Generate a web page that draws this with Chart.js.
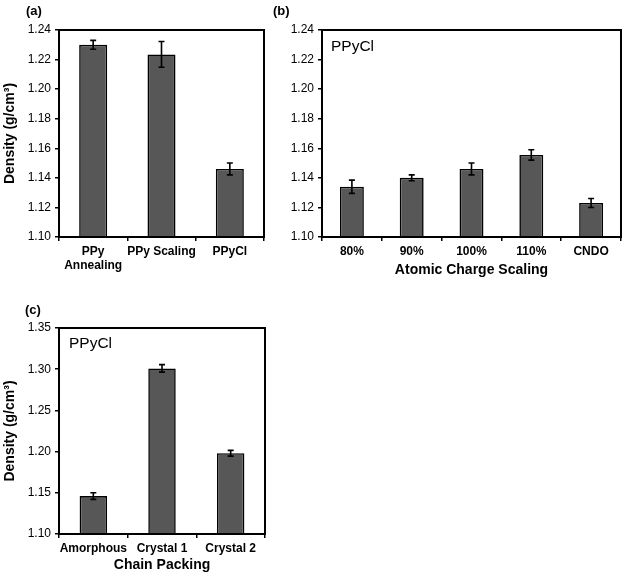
<!DOCTYPE html>
<html>
<head>
<meta charset="utf-8">
<script src="https://cdn.jsdelivr.net/npm/chart.js@4.4.1/dist/chart.umd.min.js"></script>
<style>
  html, body { margin: 0; padding: 0; background: #fff; }
  body { width: 625px; height: 577px; position: relative; overflow: hidden;
         font-family: "Liberation Sans", Arial, sans-serif; }
  .box { position: absolute; }
  .tag { position: absolute; font-weight: bold; font-size: 13px; color: #000; }
  .note { position: absolute; font-size: 15.5px; color: #000; }
</style>
</head>
<body>
<div class="box" style="left:0;top:0;width:275px;height:285px"><canvas id="chart-a"></canvas></div>
<div class="box" style="left:275px;top:0;width:350px;height:285px"><canvas id="chart-b"></canvas></div>
<div class="box" style="left:0;top:290px;width:275px;height:287px"><canvas id="chart-c"></canvas></div>

<div class="tag" style="left:26px;top:3px">(a)</div>
<div class="tag" style="left:273px;top:3px">(b)</div>
<div class="tag" style="left:25px;top:302px">(c)</div>
<div class="note" style="left:331px;top:37px">PPyCl</div>
<div class="note" style="left:69px;top:334px">PPyCl</div>

<script>
// ── Data ──────────────────────────────────────────────────────────────────────

const labelsA = [['PPy', 'Annealing'], 'PPy Scaling', 'PPyCl'];
const valuesA = [1.230, 1.2235, 1.146];
const errorsA = [0.003, 0.0087, 0.004];

const labelsB = ['80%', '90%', '100%', '110%', 'CNDO'];
const valuesB = [1.134, 1.140, 1.146, 1.1555, 1.123];
const errorsB = [0.0045, 0.002, 0.004, 0.0035, 0.003];

const labelsC = ['Amorphous', 'Crystal 1', 'Crystal 2'];
const valuesC = [1.146, 1.301, 1.198];
const errorsC = [0.004, 0.0045, 0.0035];

const yTicksAB = [1.10, 1.12, 1.14, 1.16, 1.18, 1.20, 1.22, 1.24];
const yTicksC  = [1.10, 1.15, 1.20, 1.25, 1.30, 1.35];

const Y_TITLE = 'Density (g/cm³)';
const FONT = '"Liberation Sans", Arial, sans-serif';

// ── Plugins ───────────────────────────────────────────────────────────────────

const errorBars = {
  id: 'errorBars',
  afterDatasetsDraw(chart, args, opts) {
    const { ctx } = chart;
    const y = chart.scales.y;
    const errs = opts.errors || [];
    chart.getDatasetMeta(0).data.forEach((bar, i) => {
      const v = chart.data.datasets[0].data[i];
      const e = errs[i];
      if (e == null) return;
      const top = y.getPixelForValue(v + e);
      const bot = y.getPixelForValue(v - e);
      ctx.save();
      ctx.strokeStyle = '#000';
      ctx.lineWidth = 1.6;
      ctx.beginPath();
      ctx.moveTo(bar.x, top); ctx.lineTo(bar.x, bot);
      ctx.moveTo(bar.x - 3, top); ctx.lineTo(bar.x + 3, top);
      ctx.moveTo(bar.x - 3, bot); ctx.lineTo(bar.x + 3, bot);
      ctx.stroke();
      ctx.restore();
    });
  },
};

const frame = {
  id: 'frame',
  afterDraw(chart) {
    const { ctx, chartArea: a } = chart;
    ctx.save();
    ctx.strokeStyle = '#000';
    ctx.lineWidth = 2;
    ctx.strokeRect(a.left, a.top, a.right - a.left, a.bottom - a.top);
    ctx.restore();
  },
};

// ── Builder ───────────────────────────────────────────────────────────────────

function makeChart(id, cfg) {
  return new Chart(document.getElementById(id), {
    type: 'bar',
    data: {
      labels: cfg.labels,
      datasets: [{
        data: cfg.values,
        backgroundColor: '#575757',
        borderColor: '#000',
        borderWidth: 1.6,
        barPercentage: cfg.barPct,
        categoryPercentage: 1,
      }],
    },
    options: {
      responsive: true,
      maintainAspectRatio: false,
      animation: false,
      layout: { padding: cfg.padding },
      plugins: {
        legend: { display: false },
        tooltip: { enabled: false },
        errorBars: { errors: cfg.errors },
      },
      scales: {
        x: {
          grid: { display: true, drawOnChartArea: false, drawTicks: true,
                  tickLength: 4, color: '#000', lineWidth: 1.5, offset: true },
          border: { display: false },
          ticks: { color: '#000', padding: 3, maxRotation: 0, autoSkip: false,
                   font: { family: FONT, size: 12, weight: 'bold' } },
          title: {
            display: !!cfg.xTitle,
            text: cfg.xTitle || '',
            color: '#000',
            padding: { top: 0, bottom: cfg.xTitlePad || 0 },
            font: { family: FONT, size: 14, weight: 'bold' },
          },
          afterFit: s => { s.height = cfg.xHeight; },
        },
        y: {
          min: cfg.yTicks[0],
          max: cfg.yTicks[cfg.yTicks.length - 1],
          grid: { display: true, drawOnChartArea: false, drawTicks: true,
                  tickLength: 4, color: '#000', lineWidth: 1.5 },
          border: { display: false },
          afterBuildTicks: s => { s.ticks = cfg.yTicks.map(v => ({ value: v })); },
          ticks: { color: '#000', padding: 4,
                   font: { family: FONT, size: 12 },
                   callback: v => Number(v).toFixed(2) },
          title: {
            display: !!cfg.yTitle,
            text: cfg.yTitle || '',
            color: '#000',
            padding: { top: 2, bottom: 0 },
            font: { family: FONT, size: 14, weight: 'bold' },
          },
          afterFit: s => { s.width = cfg.yWidth; },
        },
      },
    },
    plugins: [errorBars, frame],
  });
}

makeChart('chart-a', {
  labels: labelsA, values: valuesA, errors: errorsA, yTicks: yTicksAB,
  barPct: 0.41, yTitle: Y_TITLE, yWidth: 59, xHeight: 48,
  padding: { top: 30, right: 11, left: 0, bottom: 0 },
});

makeChart('chart-b', {
  labels: labelsB, values: valuesB, errors: errorsB, yTicks: yTicksAB,
  barPct: 0.4, xTitle: 'Atomic Charge Scaling', xTitlePad: 6, yWidth: 47, xHeight: 48,
  padding: { top: 30, right: 4, left: 0, bottom: 0 },
});

makeChart('chart-c', {
  labels: labelsC, values: valuesC, errors: errorsC, yTicks: yTicksC,
  barPct: 0.4, yTitle: Y_TITLE, xTitle: 'Chain Packing', xTitlePad: 3,
  yWidth: 59, xHeight: 43,
  padding: { top: 38, right: 10, left: 0, bottom: 0 },
});
</script>
</body>
</html>
